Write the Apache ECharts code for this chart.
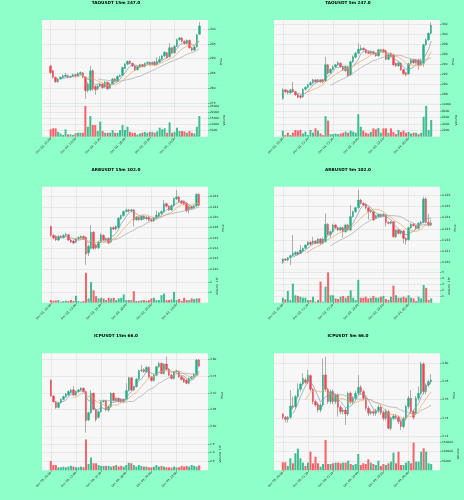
<!DOCTYPE html>
<html>
<head>
<meta charset="utf-8">
<script src="https://cdn.jsdelivr.net/npm/echarts@6/dist/echarts.min.js"></script>
<style>
  html, body { margin: 0; padding: 0; background: #8effc8; }
  #chart { width: 464px; height: 500px; }
</style>
</head>
<body>
<div id="chart"></div>
<script>
// x tick labels (one every 10 candles)
const ticks15m = ['Dec 03, 10:30', 'Dec 03, 13:00', 'Dec 03, 15:30', 'Dec 03, 18:00', 'Dec 03, 20:30', 'Dec 03, 23:00'];
const ticks5m = ['Dec 03, 20:30', 'Dec 03, 21:20', 'Dec 03, 22:10', 'Dec 03, 23:00', 'Dec 03, 23:50', 'Dec 04, 00:40'];

// candles: [open, close, low, high]
const taoM15 = [
  [287.5,285.3,284.9,288.0],[285.9,283.7,283.3,286.2],[283.7,282.2,281.8,283.9],[282.2,283.1,281.9,283.4],
  [283.1,283.7,282.9,284.0],[283.6,284.2,283.3,284.6],[284.0,284.4,283.8,285.2],[284.2,283.7,283.4,284.6],
  [283.7,284.0,283.5,284.3],[284.0,284.6,283.8,285.0],[284.6,284.2,283.9,284.9],[284.2,285.1,283.9,285.4],
  [284.9,285.3,284.6,285.7],[285.2,283.7,283.4,285.5],[283.7,279.2,276.4,284.0],[279.2,281.4,278.6,282.0],
  [279.5,285.9,279.0,287.5],[285.9,279.8,279.2,286.4],[280.6,279.5,277.8,281.0],[279.8,280.7,279.3,281.3],
  [280.7,281.4,280.4,281.9],[281.4,280.2,279.8,281.8],[280.4,282.0,280.0,282.5],[282.0,279.8,279.4,282.3],
  [280.0,281.5,279.8,281.9],[281.5,283.1,281.2,283.5],[283.1,282.4,282.1,283.4],[282.4,284.0,282.2,284.3],
  [284.0,284.4,283.8,284.7],[284.4,287.0,284.2,287.3],[286.7,288.1,286.5,288.6],[288.1,289.1,287.8,289.4],
  [289.1,288.4,288.1,289.5],[288.4,287.5,287.2,288.7],[287.5,286.2,285.9,287.8],[286.2,287.3,286.0,287.6],
  [287.1,288.0,286.9,288.3],[288.0,287.4,287.1,288.2],[287.4,288.4,287.1,288.7],[288.4,288.8,288.1,289.1],
  [288.8,288.0,287.7,289.0],[288.0,288.8,287.8,289.0],[288.8,287.9,287.6,289.3],[287.9,289.1,287.6,290.5],
  [288.9,289.8,288.6,290.9],[289.8,290.9,289.5,291.3],[290.9,292.2,290.6,292.5],[292.0,290.3,290.0,292.3],
  [290.7,293.7,290.4,295.3],[293.7,292.0,291.7,294.0],[292.0,294.2,291.7,294.5],[294.2,296.4,294.0,296.8],
  [296.4,297.0,296.1,297.3],[297.0,295.9,295.6,297.3],[295.9,295.1,294.8,296.2],[295.1,296.2,294.9,296.5],
  [296.2,293.7,293.4,296.5],[293.7,292.9,292.5,294.0],[292.9,294.0,292.7,294.3],[294.0,298.1,293.8,298.4],
  [298.3,301.1,298.0,302.4]
];
const taoM15Vol = [
  6200,7000,7000,4000,2700,1400,6100,1900,2000,1400,2700,3300,3300,3300,25600,8300,17200,9700,9700,4700,
  12500,4700,3300,3300,3300,5500,3300,3300,5500,9700,5500,8300,4000,3300,3300,1900,2700,3300,4000,3300,
  4000,4000,3300,4500,7500,6100,7000,3300,11900,3300,4000,7500,4700,4700,4400,3300,4700,3300,2700,8300,
  17200
];

const taoM5 = [
  [287.2,288.9,286.9,289.2],[288.9,288.5,288.2,289.1],[288.7,288.3,288.0,288.9],[288.3,288.9,288.1,289.1],
  [289.0,288.5,288.3,290.5],[288.5,287.9,287.7,288.7],[287.9,287.4,287.2,288.1],[287.7,287.4,287.1,287.9],
  [287.5,289.0,287.3,289.2],[289.0,289.4,288.8,289.6],[289.4,289.9,289.2,290.1],[289.9,290.3,289.7,290.6],
  [290.3,290.9,290.1,291.1],[290.9,290.5,290.3,291.0],[290.5,290.9,290.3,291.1],[290.9,290.5,290.3,291.0],
  [290.9,290.5,290.2,291.1],[290.7,293.9,290.5,295.5],[293.9,292.2,292.0,294.1],[292.3,293.0,292.1,293.2],
  [293.0,293.5,292.8,293.8],[293.5,293.9,293.3,294.1],[293.9,294.3,293.7,294.6],[294.2,293.5,293.3,294.4],
  [293.5,292.9,292.7,293.7],[292.7,293.5,292.5,293.7],[293.5,291.7,291.5,293.7],[291.9,294.5,291.7,294.8],
  [294.5,295.5,294.3,295.8],[295.4,296.2,295.2,296.5],[296.2,297.0,296.0,298.2],[296.9,297.2,296.7,297.8],
  [297.2,296.9,296.7,297.4],[296.9,296.3,296.1,297.1],[296.5,296.2,296.0,296.7],[296.2,296.5,296.0,296.7],
  [296.5,296.1,295.9,296.7],[296.1,295.7,295.5,296.3],[295.7,296.9,295.5,297.1],[296.7,296.9,296.5,297.1],
  [296.9,296.5,296.3,297.1],[296.7,295.0,294.8,296.9],[295.0,295.9,294.8,296.1],[296.2,295.5,295.3,296.4],
  [295.9,293.9,293.7,296.1],[294.2,293.7,293.5,294.4],[293.7,294.3,293.5,294.5],[294.2,292.9,292.7,294.4],
  [292.9,292.1,291.9,293.1],[292.3,291.9,291.6,292.5],[292.1,294.1,291.9,294.3],[294.2,294.9,294.0,295.1],
  [294.9,294.3,294.1,295.1],[294.3,294.9,294.1,295.1],[294.9,293.9,292.9,295.1],[293.9,294.6,293.7,295.2],
  [294.2,297.9,293.5,298.1],[297.9,298.9,297.7,299.2],[298.9,300.2,298.7,300.4],[300.2,301.8,300.0,302.4]
];
const taoM5Vol = [
  1900,500,1250,500,1250,2100,1900,2100,1000,1560,500,2100,1250,2600,1900,1000,500,6400,5000,800,
  800,1000,800,1000,1250,1560,1250,1900,1560,1250,7000,3100,1900,1250,1000,1460,2600,2300,2700,1250,
  2600,2600,1250,2600,1460,800,2100,1460,1900,1250,1460,1000,1250,1250,800,1250,6200,9600,2100,5200
];

const arbM15 = [
  [0.2182,0.2165,0.2162,0.2184],[0.2165,0.2160,0.2157,0.2167],[0.2163,0.2156,0.2154,0.2165],[0.2156,0.2163,0.2154,0.2165],
  [0.2163,0.2161,0.2159,0.2165],[0.2161,0.2165,0.2159,0.2167],[0.2165,0.2167,0.2163,0.2170],[0.2166,0.2156,0.2154,0.2168],
  [0.2156,0.2152,0.2150,0.2158],[0.2154,0.2150,0.2148,0.2156],[0.2152,0.2158,0.2150,0.2160],[0.2158,0.2161,0.2156,0.2163],
  [0.2160,0.2163,0.2158,0.2165],[0.2163,0.2158,0.2156,0.2165],[0.2161,0.2129,0.2108,0.2163],[0.2131,0.2144,0.2125,0.2147],
  [0.2140,0.2171,0.2138,0.2185],[0.2171,0.2140,0.2137,0.2173],[0.2146,0.2141,0.2138,0.2149],[0.2141,0.2152,0.2139,0.2154],
  [0.2152,0.2166,0.2150,0.2169],[0.2165,0.2156,0.2154,0.2167],[0.2156,0.2159,0.2153,0.2161],[0.2159,0.2150,0.2148,0.2161],
  [0.2152,0.2180,0.2150,0.2182],[0.2180,0.2177,0.2175,0.2182],[0.2177,0.2182,0.2175,0.2184],[0.2180,0.2198,0.2178,0.2200],
  [0.2197,0.2203,0.2195,0.2205],[0.2203,0.2211,0.2201,0.2213],[0.2211,0.2214,0.2209,0.2216],[0.2214,0.2212,0.2209,0.2216],
  [0.2212,0.2214,0.2210,0.2216],[0.2214,0.2195,0.2182,0.2216],[0.2195,0.2200,0.2193,0.2202],[0.2200,0.2195,0.2193,0.2202],
  [0.2195,0.2202,0.2193,0.2204],[0.2202,0.2197,0.2195,0.2204],[0.2197,0.2200,0.2195,0.2202],[0.2200,0.2194,0.2192,0.2202],
  [0.2195,0.2193,0.2191,0.2197],[0.2193,0.2199,0.2191,0.2201],[0.2199,0.2204,0.2197,0.2213],[0.2202,0.2208,0.2200,0.2210],
  [0.2207,0.2211,0.2205,0.2213],[0.2211,0.2226,0.2209,0.2233],[0.2226,0.2221,0.2219,0.2228],[0.2221,0.2214,0.2212,0.2223],
  [0.2214,0.2222,0.2212,0.2224],[0.2222,0.2236,0.2220,0.2238],[0.2235,0.2239,0.2233,0.2252],[0.2239,0.2230,0.2228,0.2241],
  [0.2231,0.2227,0.2225,0.2233],[0.2230,0.2225,0.2223,0.2232],[0.2227,0.2212,0.2210,0.2229],[0.2214,0.2220,0.2207,0.2222],
  [0.2220,0.2217,0.2215,0.2222],[0.2218,0.2222,0.2216,0.2224],[0.2222,0.2244,0.2220,0.2246],[0.2244,0.2223,0.2221,0.2246]
];
const arbM15Vol = [
  2.5e6,1.9e6,2.2e6,2.5e6,0.9e6,1.6e6,1.9e6,1.6e6,2.5e6,1.6e6,6.6e6,1.6e6,0.9e6,1.6e6,28.6e6,4.1e6,19.8e6,11.9e6,6.3e6,4.1e6,
  4.7e6,4.1e6,2.5e6,4.7e6,4.1e6,4.7e6,2.5e6,4.1e6,4.7e6,7.9e6,2.5e6,2.5e6,2.5e6,11.0e6,1.6e6,1.6e6,2.2e6,2.5e6,1.9e6,2.5e6,
  4.1e6,4.7e6,2.5e6,2.5e6,7.2e6,8.8e6,2.5e6,2.5e6,3.1e6,10.4e6,2.5e6,3.5e6,1.6e6,4.7e6,2.5e6,2.5e6,4.1e6,3.5e6,4.1e6,4.1e6
];

const arbM5 = [
  [0.22004,0.22033,0.21990,0.22040],[0.22033,0.22024,0.22015,0.22040],[0.22024,0.22045,0.22015,0.22050],[0.22045,0.22063,0.21980,0.22070],
  [0.22063,0.22083,0.22055,0.22245],[0.22074,0.22092,0.22065,0.22100],[0.22092,0.22074,0.22065,0.22100],[0.22083,0.22113,0.22075,0.22157],
  [0.22104,0.22128,0.22095,0.22135],[0.22128,0.22157,0.22120,0.22165],[0.22157,0.22181,0.22150,0.22190],[0.22181,0.22163,0.22155,0.22190],
  [0.22172,0.22192,0.22165,0.22230],[0.22192,0.22172,0.22165,0.22200],[0.22172,0.22210,0.22165,0.22220],[0.22210,0.22172,0.22160,0.22220],
  [0.22172,0.22210,0.22165,0.22225],[0.22187,0.22340,0.22180,0.22437],[0.22340,0.22251,0.22240,0.22350],[0.22251,0.22275,0.22222,0.22285],
  [0.22275,0.22334,0.22265,0.22345],[0.22334,0.22310,0.22300,0.22345],[0.22310,0.22290,0.22280,0.22320],[0.22290,0.22310,0.22280,0.22320],
  [0.22310,0.22275,0.22222,0.22320],[0.22275,0.22334,0.22265,0.22345],[0.22334,0.22290,0.22280,0.22345],[0.22290,0.22408,0.22280,0.22510],
  [0.22408,0.22452,0.22400,0.22460],[0.22452,0.22487,0.22440,0.22495],[0.22487,0.22555,0.22480,0.22644],[0.22555,0.22526,0.22515,0.22565],
  [0.22526,0.22511,0.22500,0.22535],[0.22517,0.22487,0.22475,0.22525],[0.22487,0.22452,0.22380,0.22495],[0.22452,0.22467,0.22440,0.22475],
  [0.22452,0.22378,0.22370,0.22460],[0.22393,0.22417,0.22385,0.22425],[0.22408,0.22428,0.22400,0.22435],[0.22428,0.22408,0.22400,0.22435],
  [0.22417,0.22428,0.22405,0.22440],[0.22422,0.22358,0.22320,0.22430],[0.22358,0.22349,0.22340,0.22365],[0.22349,0.22363,0.22340,0.22370],
  [0.22363,0.22231,0.22220,0.22370],[0.22231,0.22290,0.22220,0.22300],[0.22290,0.22260,0.22250,0.22300],[0.22260,0.22281,0.22250,0.22290],
  [0.22281,0.22216,0.22172,0.22290],[0.22216,0.22200,0.22160,0.22225],[0.22204,0.22310,0.22195,0.22320],[0.22310,0.22340,0.22300,0.22350],
  [0.22340,0.22328,0.22320,0.22350],[0.22328,0.22305,0.22290,0.22335],[0.22305,0.22349,0.22295,0.22360],[0.22349,0.22358,0.22340,0.22370],
  [0.22358,0.22564,0.22350,0.22585],[0.22564,0.22358,0.22350,0.22580],[0.22358,0.22334,0.22320,0.22430],[0.22334,0.22352,0.22325,0.22380]
];
const arbM5Vol = [
  0.80e6,0.54e6,1.90e6,0.43e6,3.10e6,1.20e6,1.10e6,0.97e6,0.81e6,0.81e6,0.43e6,0.43e6,0.97e6,0.16e6,0.43e6,3.40e6,0.16e6,2.60e6,4.90e6,1.20e6,
  1.20e6,0.70e6,0.60e6,0.97e6,1.10e6,0.81e6,1.10e6,2.00e6,0.81e6,0.43e6,3.70e6,0.81e6,0.81e6,0.97e6,0.70e6,0.81e6,1.10e6,0.81e6,0.81e6,0.97e6,
  1.10e6,0.60e6,0.43e6,0.97e6,2.76e6,1.20e6,0.81e6,0.81e6,0.97e6,0.81e6,1.20e6,0.81e6,0.70e6,0.27e6,0.97e6,0.70e6,2.86e6,2.40e6,0.43e6,0.70e6
];

const icpM15 = [
  [3.7385,3.6909,3.688,3.740],[3.6909,3.674,3.671,3.693],[3.674,3.657,3.653,3.676],[3.657,3.671,3.654,3.674],
  [3.671,3.681,3.668,3.684],[3.681,3.689,3.678,3.692],[3.689,3.697,3.686,3.700],[3.694,3.704,3.691,3.708],
  [3.701,3.709,3.698,3.712],[3.709,3.694,3.691,3.720],[3.694,3.704,3.691,3.707],[3.704,3.709,3.701,3.712],
  [3.709,3.714,3.706,3.717],[3.714,3.704,3.701,3.717],[3.704,3.6175,3.582,3.707],[3.6195,3.641,3.616,3.644],
  [3.641,3.699,3.638,3.709],[3.699,3.651,3.648,3.702],[3.651,3.621,3.6145,3.654],[3.627,3.644,3.624,3.647],
  [3.644,3.674,3.641,3.677],[3.674,3.677,3.671,3.680],[3.677,3.649,3.646,3.680],[3.649,3.659,3.644,3.662],
  [3.659,3.699,3.656,3.702],[3.699,3.677,3.674,3.702],[3.677,3.684,3.674,3.687],[3.684,3.674,3.671,3.687],
  [3.681,3.674,3.671,3.684],[3.674,3.681,3.671,3.684],[3.681,3.707,3.678,3.729],[3.707,3.745,3.704,3.748],
  [3.745,3.709,3.706,3.748],[3.709,3.719,3.706,3.722],[3.719,3.741,3.716,3.744],[3.741,3.766,3.738,3.769],
  [3.766,3.768,3.763,3.783],[3.770,3.763,3.760,3.773],[3.763,3.776,3.760,3.779],[3.776,3.748,3.745,3.779],
  [3.748,3.737,3.734,3.751],[3.737,3.753,3.734,3.756],[3.753,3.778,3.750,3.781],[3.778,3.788,3.775,3.793],
  [3.788,3.758,3.755,3.791],[3.758,3.786,3.755,3.789],[3.786,3.770,3.767,3.808],[3.770,3.753,3.750,3.773],
  [3.753,3.743,3.740,3.756],[3.743,3.763,3.740,3.766],[3.763,3.766,3.760,3.769],[3.763,3.748,3.745,3.766],
  [3.748,3.740,3.737,3.751],[3.743,3.733,3.730,3.746],[3.738,3.729,3.726,3.741],[3.729,3.743,3.726,3.746],
  [3.743,3.748,3.740,3.751],[3.748,3.756,3.745,3.759],[3.753,3.798,3.750,3.801],[3.798,3.780,3.777,3.801]
];
const icpM15Vol = [
  5.3e6,3.0e6,3.0e6,1.7e6,1.7e6,2.1e6,1.7e6,2.1e6,2.5e6,2.1e6,1.7e6,1.7e6,2.1e6,1.7e6,17.5e6,3.6e6,7.2e6,4.0e6,4.0e6,3.0e6,
  2.5e6,2.5e6,2.5e6,2.5e6,2.1e6,2.5e6,3.0e6,2.1e6,2.5e6,2.1e6,3.0e6,4.3e6,4.0e6,3.0e6,2.1e6,3.0e6,2.5e6,2.1e6,2.1e6,1.7e6,
  1.7e6,2.1e6,3.0e6,2.1e6,2.5e6,2.1e6,1.7e6,1.7e6,1.5e6,2.1e6,1.7e6,1.7e6,2.5e6,2.1e6,2.5e6,2.1e6,3.0e6,2.5e6,2.1e6,2.8e6
];

const icpM5 = [
  [3.7442,3.7405,3.738,3.745],[3.7405,3.7383,3.735,3.742],[3.7383,3.7405,3.7347,3.742],[3.7405,3.753,3.739,3.7706],
  [3.753,3.7516,3.749,3.7633],[3.7523,3.7633,3.750,3.765],[3.7633,3.7714,3.761,3.778],[3.7714,3.7772,3.769,3.779],
  [3.7772,3.7835,3.775,3.789],[3.7817,3.779,3.777,3.784],[3.7798,3.7872,3.777,3.7927],[3.7864,3.7714,3.769,3.788],
  [3.7714,3.7578,3.755,3.773],[3.7578,3.7541,3.752,3.760],[3.755,3.7486,3.746,3.757],[3.7486,3.7541,3.746,3.756],
  [3.7541,3.7872,3.752,3.8055],[3.7872,3.7714,3.769,3.8073],[3.7714,3.7578,3.755,3.773],[3.7578,3.7688,3.755,3.771],
  [3.7688,3.7578,3.755,3.771],[3.7578,3.7651,3.755,3.767],[3.7651,3.7516,3.7413,3.767],[3.7516,3.7468,3.744,3.754],
  [3.7468,3.7486,3.744,3.751],[3.7486,3.7442,3.7321,3.751],[3.7442,3.767,3.742,3.769],[3.767,3.7578,3.755,3.769],
  [3.7578,3.7615,3.755,3.764],[3.7615,3.767,3.759,3.770],[3.767,3.7736,3.765,3.787],[3.7736,3.7688,3.766,3.776],
  [3.7688,3.7615,3.759,3.771],[3.7615,3.7505,3.748,3.764],[3.7505,3.745,3.742,3.753],[3.745,3.7468,3.743,3.749],
  [3.7468,3.745,3.742,3.749],[3.745,3.7479,3.742,3.750],[3.7479,3.7516,3.745,3.754],[3.7516,3.7457,3.743,3.754],
  [3.7457,3.7394,3.737,3.748],[3.7394,3.7479,3.737,3.750],[3.7468,3.7284,3.7273,3.749],[3.7284,3.7394,3.726,3.741],
  [3.7394,3.742,3.737,3.744],[3.742,3.7405,3.738,3.744],[3.7405,3.7358,3.733,3.742],[3.7358,3.7303,3.7266,3.738],
  [3.7303,3.7394,3.728,3.741],[3.7394,3.7523,3.737,3.754],[3.7523,3.7615,3.750,3.764],[3.7615,3.7468,3.744,3.7706],
  [3.7468,3.7405,3.738,3.749],[3.745,3.7615,3.743,3.764],[3.7615,3.767,3.759,3.7743],[3.767,3.7993,3.765,3.8018],
  [3.7993,3.7688,3.766,3.801],[3.7688,3.7761,3.766,3.778],[3.7761,3.7798,3.774,3.782],[3.7798,3.7817,3.777,3.788]
];
const icpM5Vol = [
  42900,42900,23200,64300,37500,91100,116100,64300,41100,23200,41100,100000,37500,73200,37500,19600,33900,162500,33900,33900,
  37500,41100,41100,37500,41100,41100,51800,33900,28600,33900,87500,28600,37500,33900,58900,41100,33900,28600,51800,23200,
  33900,28600,37500,46400,94700,37500,100000,28600,28600,41100,50000,37500,148200,46400,46400,100000,117900,100000,37500,33900
];

// axis tick values
const taoM15PriceTicks = [275, 280, 285, 290, 295, 300];
const taoM15VolTicks = [5000, 10000, 15000, 20000, 25000];
const taoM5PriceTicks = [288, 290, 292, 294, 296, 298, 300, 302];
const taoM5VolTicks = [2000, 4000, 6000, 8000, 10000];
const arbM15PriceTicks = [0.210, 0.212, 0.214, 0.216, 0.218, 0.220, 0.222, 0.224, 0.226];
const arbM15VolTicks = [1e7, 2e7];
const arbM5PriceTicks = [0.220, 0.221, 0.222, 0.223, 0.224, 0.225, 0.226];
const arbM5VolTicks = [1e6, 2e6, 3e6, 4e6, 5e6];
const icpM15PriceTicks = [3.60, 3.65, 3.70, 3.75, 3.80];
const icpM15VolTicks = [0.5e7, 1e7, 1.5e7];
const icpM5PriceTicks = [3.72, 3.74, 3.76, 3.78, 3.80];
const icpM5VolTicks = [50000, 100000, 150000];

const MA_WINDOWS = [5, 10, 20];
const MA_COLORS = ['#8193ae', '#f2a35c', '#a6a6a6'];
const UP = '#1fae84', DOWN = '#f2424f', WICK = '#7a7a7a';
const VOL_UP = '#3cbf8f', VOL_DOWN = '#f6616a';
const GRID_C = '#dedede', BG = '#f7f7f7', TXT = '#222';
const FONT = 'DejaVu Sans';
const PAD_L = 3, PAD_R = 3;

const panels = [
  { title: 'TAOUSDT 15m 247.0', ohlc: taoM15, vol: taoM15Vol, dates: ticks15m,
    pMin: 274.9, pMax: 303.1, pTicks: taoM15PriceTicks, pDec: 0, pGap: 9,
    vMax: 27800, vTicks: taoM15VolTicks, vDiv: 1, vDec: 0, vName: 'Volume', vGap: 11 },
  { title: 'TAOUSDT 5m 247.0', ohlc: taoM5, vol: taoM5Vol, dates: ticks5m,
    pMin: 286.2, pMax: 302.86, pTicks: taoM5PriceTicks, pDec: 0, pGap: 9,
    vMax: 10400, vTicks: taoM5VolTicks, vDiv: 1, vDec: 0, vName: 'Volume', vGap: 11 },
  { title: 'ARBUSDT 15m 102.0', ohlc: arbM15, vol: arbM15Vol, dates: ticks15m,
    pMin: 0.20995, pMax: 0.22587, pTicks: arbM15PriceTicks, pDec: 3, pGap: 12,
    vMax: 3.2e7, vTicks: arbM15VolTicks, vDiv: 1e7, vDec: 0, vName: 'Volume  10\u2077', vGap: 6 },
  { title: 'ARBUSDT 5m 102.0', ohlc: arbM5, vol: arbM5Vol, dates: ticks5m,
    pMin: 0.21942, pMax: 0.22673, pTicks: arbM5PriceTicks, pDec: 3, pGap: 12,
    vMax: 5.4e6, vTicks: arbM5VolTicks, vDiv: 1e6, vDec: 0, vName: 'Volume  10\u2076', vGap: 6 },
  { title: 'ICPUSDT 15m 66.0', ohlc: icpM15, vol: icpM15Vol, dates: ticks15m,
    pMin: 3.568, pMax: 3.818, pTicks: icpM15PriceTicks, pDec: 2, pGap: 10,
    vMax: 1.87e7, vTicks: icpM15VolTicks, vDiv: 1e7, vDec: 1, vName: 'Volume  10\u2077', vGap: 8 },
  { title: 'ICPUSDT 5m 66.0', ohlc: icpM5, vol: icpM5Vol, dates: ticks5m,
    pMin: 3.7185, pMax: 3.811, pTicks: icpM5PriceTicks, pDec: 2, pGap: 10,
    vMax: 176800, vTicks: icpM5VolTicks, vDiv: 1, vDec: 0, vName: 'Volume', vGap: 13 }
];

// layout: two columns, three rows
const COL_LEFT = [42, 274], PLOT_W = 166, TITLE_X = [116, 348];
const ROWS = [
  { top: 20, priceH: 83.3, volH: 33.4, titleY: 1.2 },
  { top: 186.7, priceH: 82.6, volH: 33.4, titleY: 167.6 },
  { top: 353.3, priceH: 84, volH: 33, titleY: 334.2 }
];

function sma(closes, w) {
  return closes.map((_, i) => {
    if (i < w - 1) return '-';
    let s = 0;
    for (let j = i - w + 1; j <= i; j++) s += closes[j];
    return s / w;
  });
}
function padded(arr, empty) {
  return [...Array(PAD_L).fill(empty), ...arr, ...Array(PAD_R).fill(empty)];
}

const grid = [], xAxis = [], yAxis = [], series = [], graphic = [];
const tinyText = { fontSize: 2.9, fontFamily: FONT, color: TXT };

panels.forEach((p, k) => {
  const col = k % 2, row = ROWS[Math.floor(k / 2)];
  const n = p.ohlc.length;
  const cats = Array.from({ length: PAD_L + n + PAD_R }, (_, i) => String(i));
  const isTick = idx => { const d = idx - PAD_L; return d >= 0 && d % 10 === 0 && d / 10 < p.dates.length; };
  const gi = 2 * k;

  grid.push({ left: COL_LEFT[col], top: row.top, width: PLOT_W, height: row.priceH, show: true, backgroundColor: BG, borderWidth: 0 });
  grid.push({ left: COL_LEFT[col], top: row.top + row.priceH, width: PLOT_W, height: row.volH, show: true, backgroundColor: BG, borderWidth: 0 });

  const baseX = {
    type: 'category', data: cats, boundaryGap: true,
    axisLine: { show: false },
    splitLine: { show: true, interval: isTick, alignWithLabel: true, lineStyle: { color: GRID_C, width: 0.6 } }
  };
  xAxis.push(Object.assign({}, baseX, { gridIndex: gi, axisTick: { show: false }, axisLabel: { show: false } }));
  xAxis.push(Object.assign({}, baseX, {
    gridIndex: gi + 1,
    axisTick: { show: true, interval: isTick, alignWithLabel: true, length: 1.5, lineStyle: { color: '#555', width: 0.5 } },
    axisLabel: Object.assign({ show: true, interval: isTick, rotate: 45, margin: 2,
      formatter: (v, idx) => p.dates[(idx - PAD_L) / 10] || '' }, tinyText)
  }));

  yAxis.push({
    type: 'value', gridIndex: gi, position: 'right', min: p.pMin, max: p.pMax,
    axisLine: { show: false },
    axisTick: { show: true, customValues: p.pTicks, length: 1.5, lineStyle: { color: '#555', width: 0.5 } },
    axisLabel: Object.assign({ customValues: p.pTicks, margin: 2, formatter: v => v.toFixed(p.pDec) }, tinyText),
    splitLine: { show: true, lineStyle: { color: GRID_C, width: 0.6 } },
    name: 'Price', nameLocation: 'middle', nameRotate: 90, nameGap: p.pGap, nameTextStyle: tinyText
  });
  yAxis.push({
    type: 'value', gridIndex: gi + 1, position: 'right', min: 0, max: p.vMax,
    axisLine: { show: false },
    axisTick: { show: true, customValues: p.vTicks, length: 1.5, lineStyle: { color: '#555', width: 0.5 } },
    axisLabel: Object.assign({ customValues: p.vTicks, margin: 2, formatter: v => (v / p.vDiv).toFixed(p.vDec) }, tinyText),
    splitLine: { show: true, lineStyle: { color: GRID_C, width: 0.6 } },
    name: p.vName, nameLocation: 'middle', nameRotate: 90, nameGap: p.vGap, nameTextStyle: tinyText
  });

  const empty4 = ['-', '-', '-', '-'];
  // gray wicks underneath
  series.push({
    type: 'candlestick', xAxisIndex: gi, yAxisIndex: gi, silent: true, barWidth: 0.6,
    data: padded(p.ohlc, empty4),
    itemStyle: { color: WICK, color0: WICK, borderColor: WICK, borderColor0: WICK, borderWidth: 0.6 }
  });
  // coloured bodies on top
  series.push({
    type: 'candlestick', xAxisIndex: gi, yAxisIndex: gi, silent: true, barWidth: '80%',
    data: padded(p.ohlc.map(c => [c[0], c[1], Math.min(c[0], c[1]), Math.max(c[0], c[1])]), empty4),
    itemStyle: { color: UP, color0: DOWN, borderColor: UP, borderColor0: DOWN, borderWidth: 0.4 }
  });
  const closes = p.ohlc.map(c => c[1]);
  MA_WINDOWS.forEach((w, m) => {
    series.push({
      type: 'line', xAxisIndex: gi, yAxisIndex: gi, silent: true, showSymbol: false,
      data: padded(sma(closes, w), '-'),
      lineStyle: { color: MA_COLORS[m], width: 0.7 }
    });
  });
  series.push({
    type: 'bar', xAxisIndex: gi + 1, yAxisIndex: gi + 1, silent: true, barWidth: '80%',
    data: padded(p.vol.map((v, i) => ({ value: v, itemStyle: { color: p.ohlc[i][1] >= p.ohlc[i][0] ? VOL_UP : VOL_DOWN } })), '-')
  });

  graphic.push({
    type: 'text', x: TITLE_X[col], y: row.titleY,
    style: { text: p.title, align: 'center', verticalAlign: 'top', font: 'bold 4.2px "DejaVu Sans"', fill: '#000' }
  });
});

const chart = echarts.init(document.getElementById('chart'), null, { renderer: 'canvas' });
chart.setOption({
  backgroundColor: '#8effc8',
  animation: false,
  grid, xAxis, yAxis, series, graphic
});
</script>
</body>
</html>
